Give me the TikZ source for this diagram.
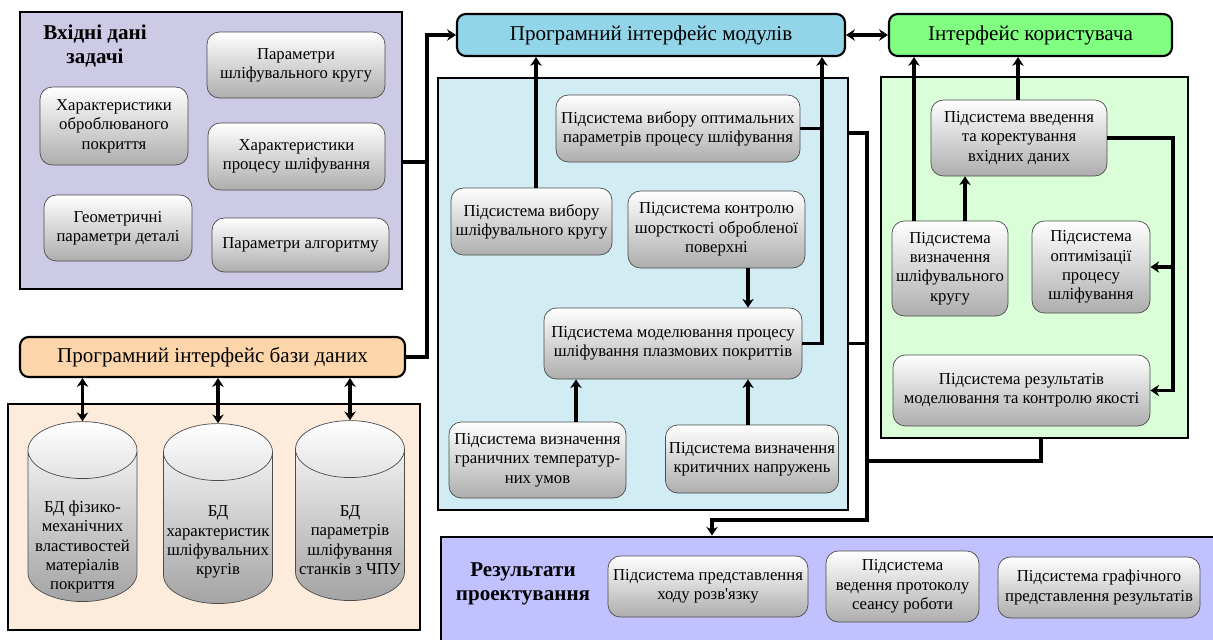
\documentclass[tikz,border=0pt]{standalone}
\usepackage{fontspec}
\setmainfont{Liberation Serif}
\usetikzlibrary{arrows.meta,shapes.geometric}
\definecolor{inpfill}{HTML}{CCCAE4}
\definecolor{dbifill}{HTML}{FCD5AA}
\definecolor{dbfill}{HTML}{FDEBDB}
\definecolor{mifill}{HTML}{93D5E8}
\definecolor{uifill}{HTML}{80FF80}
\definecolor{modfill}{HTML}{D2ECF3}
\definecolor{usrfill}{HTML}{DAFFD8}
\definecolor{resfill}{HTML}{C2C1FF}

\begin{document}
\begin{tikzpicture}[x=0.02cm,y=-0.02cm,>={Stealth[length=5pt,width=6.5pt]},
  wh/.style 2 args={minimum width=#1*0.02cm,minimum height=#2*0.02cm},
  panel/.style={draw,line width=1.6pt,inner sep=0pt},
  sub/.style={draw=black!70,rounded corners=7pt,top color=white,bottom color=black!32,
    align=center,inner sep=2pt,font=\fontsize{9.5}{11}\selectfont},
  iface/.style={draw,line width=1.2pt,rounded corners=5pt,inner sep=0pt,font=\fontsize{12}{14}\selectfont},
  db/.style={cylinder,shape border rotate=90,aspect=0.6,draw=black!70,top color=white,bottom color=black!36,
    inner sep=0pt,minimum width=2.18cm,minimum height=3.6cm},
  dbtxt/.style={align=center,inner sep=0pt,font=\fontsize{9.5}{11}\selectfont},
  hd/.style={align=center,font=\bfseries\fontsize{12}{14}\selectfont},
  link/.style={line width=2.2pt}]

\useasboundingbox (0,0) rectangle (1213,639);

\node[panel,fill=inpfill,wh={382}{277}] (inp)  at (211,150.5) {};
\node[panel,fill=dbfill,wh={412}{226}]  (dbp)  at (214,517) {};
\node[panel,fill=modfill,wh={410}{432}] (bpan) at (643,294) {};
\node[panel,fill=usrfill,wh={307}{361}] (gpan) at (1034.5,257.5) {};
\node[panel,fill=resfill,wh={790}{110}] (rpan) at (836,592) {};

\node[hd] (inptitle) at (95,46) {Вхідні дані\\задачі};
\node[sub,wh={178}{66}] (pkrug) at (296,65)    {Параметри\\шліфувального кругу};
\node[sub,wh={148}{78}] (pokr)  at (114,126)   {Характеристики\\оброблюваного\\покриття};
\node[sub,wh={177}{67}] (proc)  at (296.5,156.5) {Характеристики\\процесу шліфування};
\node[sub,wh={148}{66}] (geom)  at (118,228)   {Геометричні\\параметри деталі};
\node[sub,wh={177}{54}] (alg)   at (300.5,245) {Параметри алгоритму};

\node[iface,fill=dbifill,wh={385}{40}] (dbi) at (212.5,357) {Програмний інтерфейс бази даних};
\node[db] (cyl1) at (82.5,526) {\hspace*{1.9cm}};
\node[db] (cyl2) at (218,528)  {\hspace*{1.9cm}};
\node[db] (cyl3) at (350,525)  {\hspace*{1.9cm}};
\node[dbtxt] (cyl1txt) at (82.5,547) {БД фізико-\\механічних\\властивостей\\матеріалів\\покриття};
\node[dbtxt] (cyl2txt) at (218,542)  {БД\\характеристик\\шліфувальних\\кругів};
\node[dbtxt] (cyl3txt) at (350,540)  {БД\\параметрів\\шліфування\\станків з ЧПУ};

\node[iface,fill=mifill,wh={388}{42}] (mi) at (651,35)    {Програмний інтерфейс модулів};
\node[iface,fill=uifill,wh={283}{42}] (ui) at (1030.5,35) {Інтерфейс користувача};

\node[sub,wh={244}{67}] (opt)   at (678,128.5)   {Підсистема вибору оптимальних\\параметрів процесу шліфування};
\node[sub,wh={161}{67}] (krug)  at (531.5,221.5) {Підсистема вибору\\шліфувального кругу};
\node[sub,wh={177}{77}] (shor)  at (716.5,229.5) {Підсистема контролю\\шорсткості обробленої\\поверхні};
\node[sub,wh={258}{71}] (model) at (673,343.5)   {Підсистема моделювання процесу\\шліфування плазмових покриттів};
\node[sub,wh={177}{76}] (temp)  at (537.5,460)   {Підсистема визначення\\граничних температур-\\них умов};
\node[sub,wh={166}{68}] (napr)  at (752,459)     {Підсистема визначення\\критичних напружень};

\node[sub,wh={176}{76}] (vved)  at (1019,138)    {Підсистема введення\\та коректування\\вхідних даних};
\node[sub,wh={116}{95}] (vkrug) at (950,268.5)   {Підсистема\\визначення\\шліфувального\\кругу};
\node[sub,wh={118}{92}] (optim) at (1091,267)    {Підсистема\\оптимізації\\процесу\\шліфування};
\node[sub,wh={257}{71}] (rez)   at (1021.5,390.5) {Підсистема результатів\\моделювання та контролю якості};

\node[hd] (restitle) at (523,584) {Результати\\проектування};
\node[sub,wh={200}{61}] (hod)  at (708,586.5)  {Підсистема представлення\\ходу розв\textquotesingle язку};
\node[sub,wh={153}{71}] (prot) at (902.5,586.5) {Підсистема\\ведення протоколу\\сеансу роботи};
\node[sub,wh={202}{61}] (graf) at (1099,587.5) {Підсистема графічного\\представлення результатів};

\coordinate (bus) at (427,162);
\draw[link] (inp.east |- bus) -- (bus);
\draw[link,->] (dbi.east) -| (bus) |- (mi.west);
\draw[link,<->] (mi.east) -- (ui.west);
\foreach \c in {cyl1,cyl2,cyl3}
  \draw[link,<->] (dbi.south -| \c.top) -- (\c.top);

\coordinate (mbus) at (822,343.5);
\draw[link,->] (krug.north -| 536,0) -- (mi.south -| 536,0);
\draw[link] (opt.east) -- (opt.east -| mbus);
\draw[link,->] (model.east) -- (mbus) -- (mbus |- mi.south);
\draw[link,->] (shor.south -| 748,0) -- (model.north -| 748,0);
\draw[link,->] (temp.north -| 576,0) -- (model.south -| 576,0);
\draw[link,->] (napr.north -| 748,0) -- (model.south -| 748,0);

\coordinate (vbus) at (867,133);
\coordinate (rdrop) at (712,520);
\draw[link,->] (bpan.east |- vbus) -- (vbus) |- (rdrop) -- (rdrop |- rpan.north);
\draw[link] (bpan.east |- mbus) -- (vbus |- mbus);
\draw[link] (gpan.south -| 1041,0) |- (vbus |- 0,461);

\coordinate (gbus) at (1173,390.5);
\draw[link,->] (vved.north -| 1018,0) -- (ui.south -| 1018,0);
\draw[link,->] (vkrug.north -| 914,0) -- (ui.south -| 914,0);
\draw[link,->] (vkrug.north -| 965,0) -- (vved.south -| 965,0);
\draw[link,->] (vved.east) -| (gbus) -- (rez.east);
\draw[link,->] (gbus |- optim.east) -- (optim.east);
\end{tikzpicture}
\end{document}
